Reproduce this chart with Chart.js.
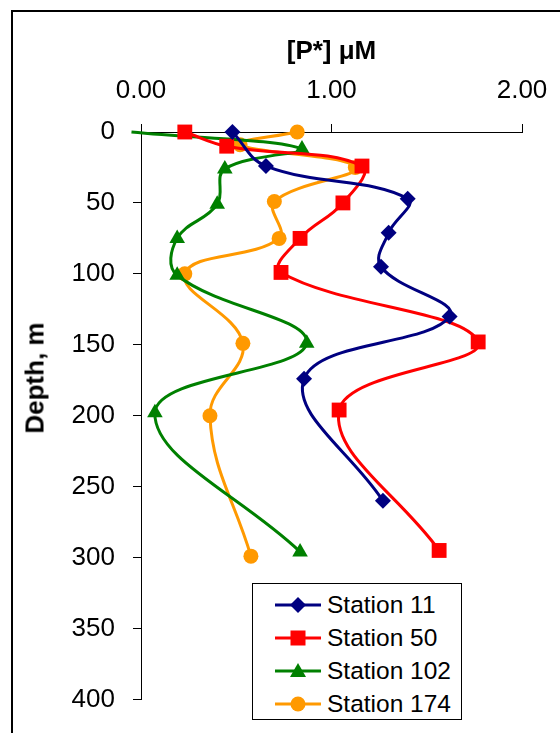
<!DOCTYPE html>
<html>
<head>
<meta charset="utf-8">
<script src="https://cdn.jsdelivr.net/npm/chart.js@4.4.1/dist/chart.umd.min.js"></script>
<style>
  body { margin: 0; background: #fff; font-family: "Liberation Sans", Arial, sans-serif; }
  #wrap { position: relative; width: 560px; height: 733px; overflow: hidden; }
  #frame { position: absolute; left: 11px; top: 10px; width: 600px; height: 800px; border: 2px solid #000; }
  #chart { position: absolute; left: 0; top: 0; }
  #ytitle { position: absolute; left: 35px; top: 378px; transform: translate(-50%, -50%) rotate(-90deg);
            font-weight: bold; font-size: 26px; white-space: nowrap; }
  #legend { position: absolute; left: 252px; top: 583px; width: 210px; height: 137px;
            border: 1.5px solid #000; background: #fff; box-sizing: border-box; padding-top: 4px; }
  .row { display: flex; align-items: center; height: 33px; font-size: 24.5px; }
  .row svg { margin-left: 22px; margin-right: 6px; }
</style>
</head>
<body>
<div id="wrap">
  <div id="frame"></div>
  <canvas id="chart" width="560" height="733"></canvas>
  <div id="ytitle">Depth, m</div>
  <div id="legend"></div>
</div>
<script>
// station data: depth (m) and [P*] (µM)
const st11Depth = [0, 24, 47, 71, 95, 130, 174, 260];
const st11Val   = [0.48, 0.656, 1.40, 1.30, 1.26, 1.62, 0.856, 1.27];

const st50Depth = [0, 10, 24, 50, 75, 99, 148, 196, 295];
const st50Val   = [0.23, 0.45, 1.16, 1.06, 0.835, 0.735, 1.77, 1.04, 1.565];

const st102Depth = [0, 12, 26, 51, 75, 101, 149, 198, 296];
const st102Val   = [-0.05, 0.845, 0.44, 0.40, 0.19, 0.19, 0.87, 0.073, 0.835];

const st174Depth = [0, 9, 25, 49, 75, 100, 149, 200, 299];
const st174Val   = [0.82, 0.52, 1.125, 0.70, 0.725, 0.23, 0.535, 0.362, 0.577];

const stationNames = ['Station 11', 'Station 50', 'Station 102', 'Station 174'];
const xTicks = [0, 1, 2];
const yTicks = [0, 50, 100, 150, 200, 250, 300, 350, 400];

const FONT = '"Liberation Sans", Arial, sans-serif';

function pts(vals, depths) {
  return vals.map((v, i) => ({ x: v, y: depths[i] }));
}

const styles = [
  { color: '#000080', shape: 'rectRot', r: 8 },
  { color: '#FF0000', shape: 'rect', r: 10.5 },
  { color: '#008000', shape: 'triangle', r: 9 },
  { color: '#FF9900', shape: 'circle', r: 7.5 },
];

const series = [
  pts(st11Val, st11Depth),
  pts(st50Val, st50Depth),
  pts(st102Val, st102Depth),
  pts(st174Val, st174Depth),
];

const datasets = series.map((d, i) => {
  const s = styles[i];
  // station 102 surface point sits left of the axis, Excel hid its marker
  const radius = i === 2 ? d.map((p, k) => (k === 0 ? 0 : s.r)) : s.r;
  return {
    label: stationNames[i],
    data: d,
    showLine: true,
    borderColor: s.color,
    backgroundColor: s.color,
    borderWidth: 3,
    pointStyle: s.shape,
    pointRadius: radius,
    pointBorderWidth: 0,
    pointBackgroundColor: s.color,
    tension: 0.4,
    clip: false,
  };
});

new Chart(document.getElementById('chart'), {
  type: 'scatter',
  data: { datasets },
  options: {
    responsive: false,
    animation: false,
    layout: { padding: { left: 14, right: 38, top: 0, bottom: 32 } },
    plugins: { legend: { display: false }, tooltip: { enabled: false } },
    scales: {
      x: {
        position: 'top',
        min: 0, max: 2,
        afterBuildTicks: sc => { sc.ticks = xTicks.map(v => ({ value: v })); },
        afterFit: sc => { sc.height = 132; sc.paddingLeft = 0; sc.paddingRight = 0; },
        ticks: {
          color: '#000', padding: 18,
          font: { family: FONT, size: 26 },
          callback: v => Number(v).toFixed(2),
        },
        grid: { drawOnChartArea: false, color: '#000', tickLength: 8 },
        border: { color: '#000', width: 1 },
        title: {
          display: true, text: '[P*] \u03bcM', color: '#000',
          font: { family: FONT, size: 26, weight: 'bold' },
          padding: { top: 36, bottom: 0 },
        },
      },
      y: {
        reverse: true,
        min: 0, max: 400,
        afterBuildTicks: sc => { sc.ticks = yTicks.map(v => ({ value: v })); },
        afterFit: sc => { sc.width = 127; },
        ticks: { color: '#000', padding: 18, font: { family: FONT, size: 26 } },
        grid: { drawOnChartArea: false, color: '#000', tickLength: 8 },
        border: { color: '#000', width: 1 },
      },
    },
  },
});

// legend box
const legend = document.getElementById('legend');
styles.forEach((s, i) => {
  let mark;
  if (s.shape === 'rectRot') mark = '<polygon points="23,3 31,11 23,19 15,11" fill="' + s.color + '"/>';
  else if (s.shape === 'rect') mark = '<rect x="15.5" y="3.5" width="15" height="15" fill="' + s.color + '"/>';
  else if (s.shape === 'triangle') mark = '<polygon points="23,3 31,17 15,17" fill="' + s.color + '"/>';
  else mark = '<circle cx="23" cy="11" r="7.5" fill="' + s.color + '"/>';
  const row = document.createElement('div');
  row.className = 'row';
  row.innerHTML = '<svg width="46" height="22"><line x1="0" y1="11" x2="46" y2="11" stroke="' + s.color +
    '" stroke-width="3"/>' + mark + '</svg><span>' + stationNames[i] + '</span>';
  legend.appendChild(row);
});
</script>
</body>
</html>
